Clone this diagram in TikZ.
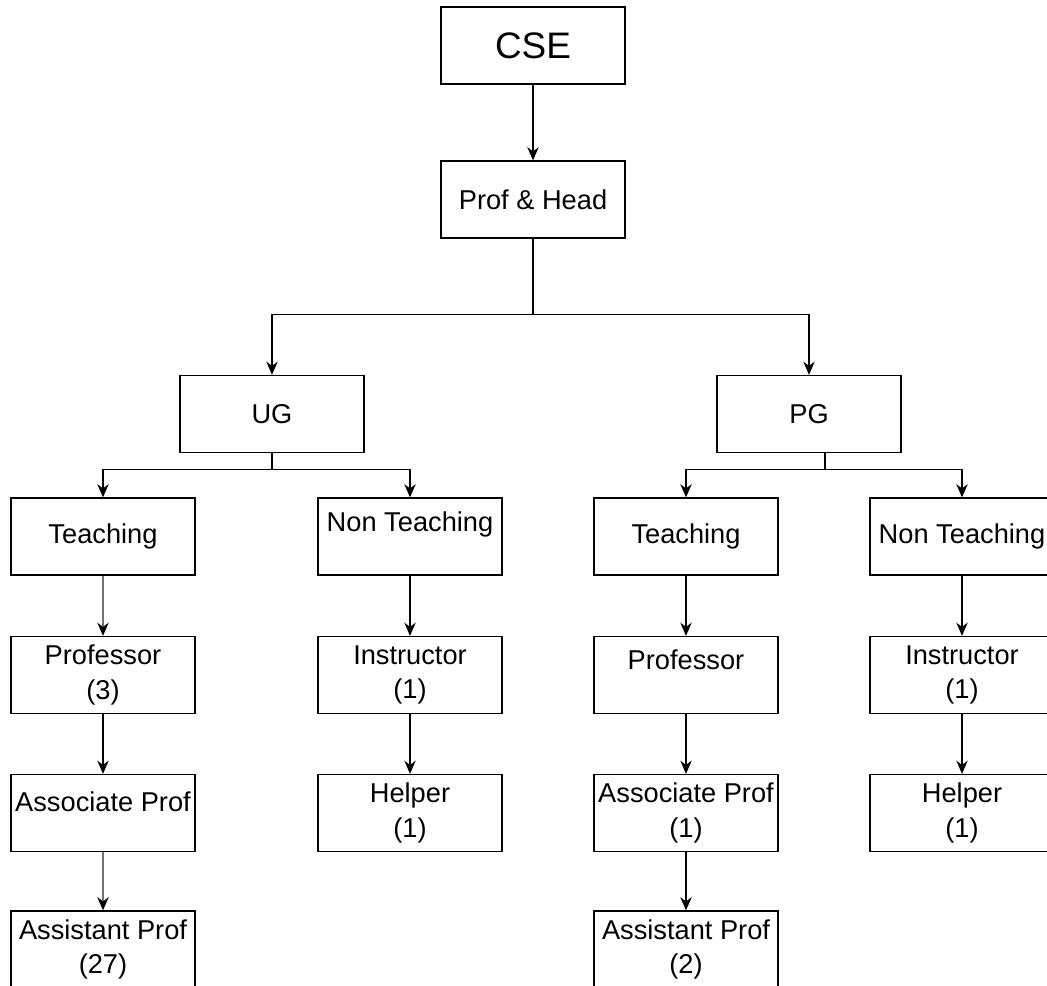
\documentclass[tikz,border=0pt]{standalone}
\usepackage{fontspec}
\setmainfont{Liberation Sans}
\usetikzlibrary{arrows.meta}

\begin{document}
\begin{tikzpicture}[x=0.02cm, y=-0.02cm, >={Stealth[length=7.5pt,width=6.5pt]},
    box/.style={draw, line width=0.8pt, minimum width=3.68cm, minimum height=1.54cm,
      inner xsep=1pt, align=center, font=\fontsize{15.5}{19.5}\selectfont},
    raised/.style={text depth=#1},
    link/.style={->, line width=0.8pt},
    greylink/.style={line width=0.8pt, draw=black!55, -{Stealth[length=7.5pt,width=6.5pt,color=black]}}]
  \useasboundingbox (0,0) rectangle (1047,985);

  % Top of the chart
  \node[box, font=\fontsize{21}{25}\selectfont] (cse) at (533,45.5) {CSE};
  \node[box] (head) at (533,199.5) {Prof \& Head};
  \node[box] (ug) at (272,414) {UG};
  \node[box] (pg) at (809,414) {PG};

  % UG side
  \node[box] (ugteach) at (103,536.5) {Teaching};
  \node[box, raised=17pt] (ugnon) at (410,536.5) {Non Teaching};
  \node[box] (ugprof) at (103,675) {Professor\\(3)};
  \node[box] (ugins) at (410,675) {Instructor\\(1)};
  \node[box, raised=12.5pt] (ugassoc) at (103,813) {Associate Prof};
  \node[box] (ughelp) at (410,813) {Helper\\(1)};
  \node[box] (ugasst) at (103,949.5) {Assistant Prof\\(27)};

  % PG side
  \node[box] (pgteach) at (686,536.5) {Teaching};
  \node[box] (pgnon) at (962,536.5) {Non Teaching};
  \node[box, raised=17pt] (pgprof) at (686,675) {Professor};
  \node[box] (pgins) at (962,675) {Instructor\\(1)};
  \node[box] (pgassoc) at (686,813) {Associate Prof\\(1)};
  \node[box] (pghelp) at (962,813) {Helper\\(1)};
  \node[box] (pgasst) at (686,949.5) {Assistant Prof\\(2)};

  % Connectors
  \draw[link] (cse) -- (head);
  \draw[link] (head.south) -- ++(0,76) -| (ug.north);
  \draw[link] (head.south) -- ++(0,76) -| (pg.north);

  \draw[link] (ug.south) -- ++(0,16) -| (ugteach.north);
  \draw[link] (ug.south) -- ++(0,16) -| (ugnon.north);
  \draw[greylink] (ugteach) -- (ugprof);
  \draw[link] (ugprof) -- (ugassoc);
  \draw[greylink] (ugassoc) -- (ugasst);
  \draw[link] (ugnon) -- (ugins);
  \draw[link] (ugins) -- (ughelp);

  \draw[link] ([xshift=0.32cm]pg.south) -- ++(0,16) -| (pgteach.north);
  \draw[link] ([xshift=0.32cm]pg.south) -- ++(0,16) -| (pgnon.north);
  \draw[link] (pgteach) -- (pgprof);
  \draw[link] (pgprof) -- (pgassoc);
  \draw[link] (pgassoc) -- (pgasst);
  \draw[link] (pgnon) -- (pgins);
  \draw[link] (pgins) -- (pghelp);
\end{tikzpicture}
\end{document}
